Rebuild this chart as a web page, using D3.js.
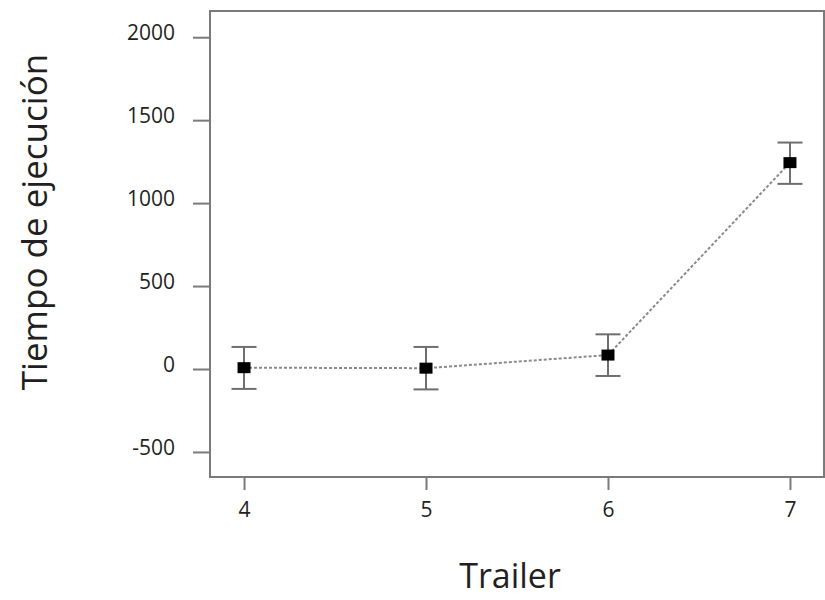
<!DOCTYPE html>
<html>
<head>
<meta charset="utf-8">
<script src="https://cdn.jsdelivr.net/npm/d3@7"></script>
<style>
  body { margin: 0; background: #fff; }
  text { font-family: "Open Sans", "Noto Sans", sans-serif; fill: #231f20; }
</style>
</head>
<body>
<svg id="chart" width="825" height="600"></svg>
<script>
const categories = [4, 5, 6, 7];
const means = [8, 5, 84, 1244];
const errLow = [-120, -123, -42, 1116];
const errHigh = [133, 133, 209, 1365];
const yTicks = [-500, 0, 500, 1000, 1500, 2000];
const xLabel = "Trailer";
const yLabel = "Tiempo de ejecución";

(function () {
const svg = d3.select("#chart");
const pLeft = 210, pRight = 824, pTop = 11, pBottom = 477;

const x = d3.scaleLinear().domain([3.813, 7.187]).range([pLeft, pRight]);
const y = d3.scaleLinear().domain([-651, 2158]).range([pBottom, pTop]);

// frame
svg.append("rect")
  .attr("x", pLeft).attr("y", pTop)
  .attr("width", pRight - pLeft).attr("height", pBottom - pTop)
  .attr("fill", "none").attr("stroke", "#7a7a7a").attr("stroke-width", 2);

// y axis
const yAxis = d3.axisLeft(y).tickValues(yTicks).tickSize(17).tickPadding(18)
  .tickFormat(d => String(d));
const gy = svg.append("g").attr("transform", `translate(${pLeft},0)`).call(yAxis);
gy.select(".domain").remove();
gy.selectAll(".tick line").attr("stroke", "#7a7a7a").attr("stroke-width", 2);
gy.selectAll(".tick text").style("font-size", "21px").attr("fill", "#231f20")
  .attr("dy", "0.1em");

// x axis
const xAxis = d3.axisBottom(x).tickValues(categories).tickSize(13).tickPadding(12)
  .tickFormat(d => String(d));
const gx = svg.append("g").attr("transform", `translate(0,${pBottom})`).call(xAxis);
gx.select(".domain").remove();
gx.selectAll(".tick line").attr("stroke", "#7a7a7a").attr("stroke-width", 2);
gx.selectAll(".tick text").style("font-size", "21px").attr("fill", "#231f20");

// dotted connecting line
const data = categories.map((c, i) => ({c, m: means[i], lo: errLow[i], hi: errHigh[i]}));
svg.append("path")
  .datum(data)
  .attr("d", d3.line().x(d => x(d.c)).y(d => y(d.m)))
  .attr("fill", "none").attr("stroke", "#8a8a8a").attr("stroke-width", 2)
  .attr("stroke-dasharray", "3,2");

// error bars
const eb = svg.append("g").selectAll("g").data(data).join("g");
eb.append("line")
  .attr("x1", d => x(d.c)).attr("x2", d => x(d.c))
  .attr("y1", d => y(d.lo)).attr("y2", d => y(d.hi))
  .attr("stroke", "#6e6e6e").attr("stroke-width", 2);
eb.append("line")
  .attr("x1", d => x(d.c) - 12.5).attr("x2", d => x(d.c) + 12.5)
  .attr("y1", d => y(d.hi)).attr("y2", d => y(d.hi))
  .attr("stroke", "#6e6e6e").attr("stroke-width", 2);
eb.append("line")
  .attr("x1", d => x(d.c) - 12.5).attr("x2", d => x(d.c) + 12.5)
  .attr("y1", d => y(d.lo)).attr("y2", d => y(d.lo))
  .attr("stroke", "#6e6e6e").attr("stroke-width", 2);

// markers
svg.append("g").selectAll("rect").data(data).join("rect")
  .attr("x", d => x(d.c) - 6.5).attr("y", d => y(d.m) - 5.5)
  .attr("width", 13).attr("height", 11).attr("fill", "#000");

// axis titles
svg.append("text")
  .attr("x", 510).attr("y", 588)
  .attr("text-anchor", "middle").style("font-size", "34px")
  .text(xLabel);
svg.append("text")
  .attr("transform", "translate(47,222) rotate(-90)")
  .attr("text-anchor", "middle").style("font-size", "35px")
  .text(yLabel);
})();
</script>
</body>
</html>
